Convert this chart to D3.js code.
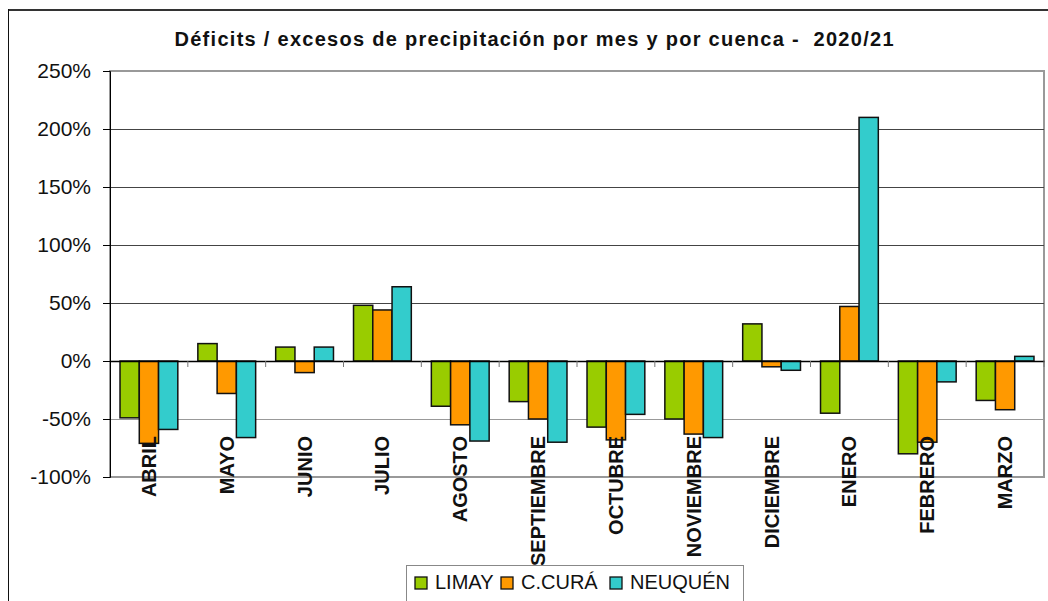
<!DOCTYPE html>
<html>
<head>
<meta charset="utf-8">
<script src="https://cdn.jsdelivr.net/npm/d3@7"></script>
<style>
  body { margin: 0; background: #fff; }
  svg { display: block; font-family: "Liberation Sans", Arial, sans-serif; }
</style>
</head>
<body>
<div id="chart"></div>
<script>
// Months (hydrological year 2020/21)
const months = ["ABRIL", "MAYO", "JUNIO", "JULIO", "AGOSTO", "SEPTIEMBRE",
  "OCTUBRE", "NOVIEMBRE", "DICIEMBRE", "ENERO", "FEBRERO", "MARZO"];

// Series values (%)
const limay = [-49, 15, 12, 48, -39, -35, -57, -50, 32, -45, -80, -34];
const ccura = [-71, -28, -10, 44, -55, -50, -68, -63, -5, 47, -70, -42];
const neuquen = [-59, -66, 12, 64, -69, -70, -46, -66, -8, 210, -18, 4];

const seriesNames = ["LIMAY", "C.CURÁ", "NEUQUÉN"];
const seriesColors = ["#99cc00", "#ff9900", "#33cccc"];
const yTicks = [-100, -50, 0, 50, 100, 150, 200, 250];

const W = 1048, H = 601;
const plot = { left: 110, top: 71, right: 1044, bottom: 477 };

const svg = d3.select("#chart")
  .append("svg")
  .attr("width", W)
  .attr("height", H);

// outer chart frame
svg.append("line").attr("x1", 8).attr("x2", W).attr("y1", 10).attr("y2", 10)
  .attr("stroke", "#333").attr("stroke-width", 2);
svg.append("line").attr("x1", 8.5).attr("x2", 8.5).attr("y1", 9).attr("y2", H)
  .attr("stroke", "#111").attr("stroke-width", 1);

// title
svg.append("text")
  .attr("x", 534)
  .attr("y", 46)
  .attr("text-anchor", "middle")
  .attr("font-size", 20)
  .attr("font-weight", "bold")
  .attr("fill", "#111")
  .style("white-space", "pre")
  .attr("textLength", 719)
  .attr("lengthAdjust", "spacing")
  .text("Déficits / excesos de precipitación por mes y por cuenca -  2020/21");

const x = d3.scaleBand()
  .domain(months)
  .range([plot.left, plot.right])
  .paddingInner(0)
  .paddingOuter(0);

const x1 = d3.scaleBand()
  .domain(seriesNames)
  .range([0, x.bandwidth()])
  .paddingOuter(0.52)
  .paddingInner(0);

const y = d3.scaleLinear()
  .domain([-100, 250])
  .range([plot.bottom, plot.top]);

// plot area frame
svg.append("rect")
  .attr("x", plot.left).attr("y", plot.top)
  .attr("width", plot.right - plot.left).attr("height", plot.bottom - plot.top)
  .attr("fill", "none").attr("stroke", "#999").attr("stroke-width", 2);

// gridlines
svg.append("g")
  .selectAll("line")
  .data(yTicks.filter(d => d !== 0))
  .enter()
  .append("line")
  .attr("x1", plot.left).attr("x2", plot.right)
  .attr("y1", d => Math.round(y(d)) + 0.5).attr("y2", d => Math.round(y(d)) + 0.5)
  .attr("stroke", d => d < 0 || d === 250 ? "#999" : "#444")
  .attr("stroke-width", 1);

// y axis
const yAxis = svg.append("g")
  .attr("transform", `translate(${plot.left},0)`)
  .call(d3.axisLeft(y).tickValues(yTicks).tickFormat(d => d + "%").tickSize(7).tickPadding(12));
yAxis.select(".domain").attr("stroke", "#000");
yAxis.selectAll(".tick line").attr("stroke", "#000");
yAxis.selectAll(".tick text")
  .attr("font-size", 21)
  .attr("font-family", "Liberation Sans, Arial, sans-serif")
  .attr("fill", "#111");

// bars
const series = [limay, ccura, neuquen];
series.forEach((vals, si) => {
  svg.append("g")
    .selectAll("rect")
    .data(vals)
    .enter()
    .append("rect")
    .attr("x", (d, i) => x(months[i]) + x1(seriesNames[si]))
    .attr("y", d => y(Math.max(0, d)))
    .attr("width", x1.bandwidth())
    .attr("height", d => Math.abs(y(d) - y(0)))
    .attr("fill", seriesColors[si])
    .attr("stroke", "#111")
    .attr("stroke-width", 1.5);
});

// zero line with category ticks
const xAxis = svg.append("g")
  .attr("transform", `translate(0,${y(0)})`)
  .call(d3.axisBottom(x).tickSize(0).tickFormat(""));
xAxis.select(".domain").attr("stroke", "#000").attr("stroke-width", 1.3);
svg.append("g")
  .selectAll("line")
  .data(months)
  .enter()
  .append("line")
  .attr("x1", d => x(d) + x.bandwidth())
  .attr("x2", d => x(d) + x.bandwidth())
  .attr("y1", y(0)).attr("y2", y(0) + 6)
  .attr("stroke", "#777");

// category labels (rotated)
svg.append("g")
  .selectAll("text")
  .data(months)
  .enter()
  .append("text")
  .attr("transform", d => `translate(${x(d) + x.bandwidth() / 2 + 7},436) rotate(-90)`)
  .attr("text-anchor", "end")
  .attr("font-size", 20)
  .attr("font-weight", "bold")
  .attr("fill", "#111")
  .text(d => d);

// legend
const legend = svg.append("g");
legend.append("rect")
  .attr("x", 406.5).attr("y", 565.5)
  .attr("width", 337).attr("height", 45)
  .attr("fill", "#fff").attr("stroke", "#888");
const legX = [415, 501, 610];
seriesNames.forEach((name, i) => {
  legend.append("rect")
    .attr("x", legX[i]).attr("y", 577)
    .attr("width", 12).attr("height", 12)
    .attr("fill", seriesColors[i]).attr("stroke", "#111").attr("stroke-width", 1.3);
  legend.append("text")
    .attr("x", legX[i] + 20).attr("y", 589)
    .attr("font-size", 20)
    .attr("fill", "#111")
    .text(name);
});
</script>
</body>
</html>
